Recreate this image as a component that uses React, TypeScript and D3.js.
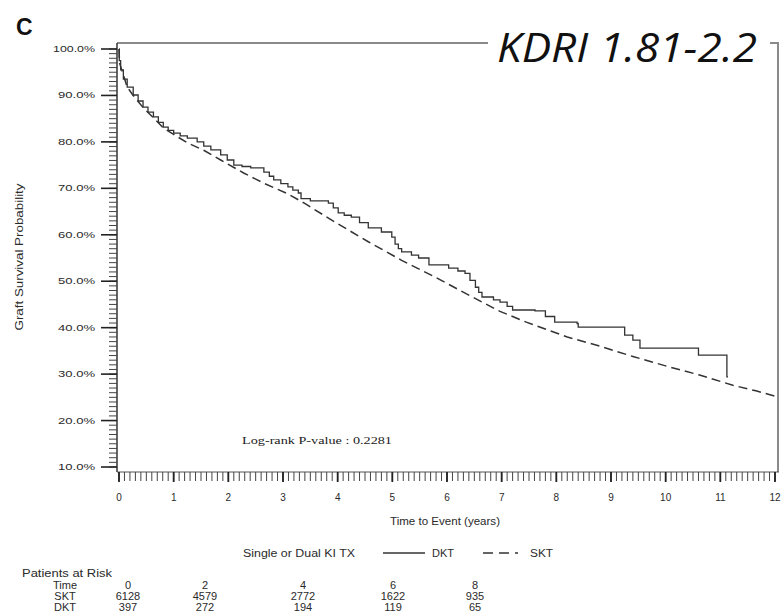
import React from "react";
import * as d3 from "d3";

// Kaplan–Meier graft survival, KDRI 1.81-2.2 stratum
// DKT: step points (years, survival %)
const dktTime = [0, 0.005, 0.03, 0.08, 0.15, 0.26, 0.35, 0.44, 0.53, 0.63, 0.72, 0.81, 0.9, 1.0, 1.12, 1.25, 1.43, 1.55, 1.68, 1.86, 1.98, 2.1, 2.25, 2.41, 2.65, 2.75, 2.83, 2.96, 3.09, 3.18, 3.28, 3.33, 3.5, 3.83, 3.92, 4.01, 4.12, 4.25, 4.4, 4.56, 4.8, 4.99, 5.05, 5.11, 5.17, 5.35, 5.48, 5.67, 6.03, 6.2, 6.33, 6.42, 6.52, 6.58, 6.64, 6.85, 6.97, 7.1, 7.2, 7.61, 7.8, 7.97, 8.38, 8.4, 9.25, 9.4, 9.53, 10.6, 11.12, 11.14];
const dktSurv = [100, 97.5, 95.5, 93.5, 91.8, 90.1, 88.8, 87.5, 86.4, 85.4, 84.2, 83.2, 82.5, 81.9, 81.3, 80.8, 80.0, 79.1, 78.3, 77.2, 76.1, 75.0, 74.7, 74.4, 73.5, 72.6, 71.8, 71.0, 70.3, 69.6, 69.0, 67.8, 67.3, 66.8, 65.8, 64.7, 64.2, 63.8, 62.6, 61.5, 60.6, 59.5, 58.0, 57.0, 56.3, 55.6, 55.0, 53.5, 52.8, 52.2, 51.7, 50.2, 48.7, 47.6, 46.6, 46.0, 45.5, 44.6, 43.8, 43.6, 42.4, 41.2, 40.9, 40.1, 38.4, 37.3, 35.6, 34.1, 29.4, 29.4];

// SKT: survival estimates (years, survival %)
const sktTime = [0, 0.01, 0.05, 0.15, 0.26, 0.44, 0.63, 0.81, 1.0, 1.25, 1.55, 1.86, 2.28, 2.65, 3.09, 3.39, 3.94, 4.56, 5.17, 5.78, 6.4, 6.97, 7.45, 8.2, 8.8, 9.4, 10.02, 10.62, 11.23, 11.65, 12.02];
const sktSurv = [100, 97, 95.5, 91.8, 90.0, 87.4, 85.2, 83.0, 81.6, 79.8, 78.2, 76.1, 73.3, 71.1, 68.8, 66.8, 62.8, 58.5, 54.5, 50.9, 47.0, 43.5, 41.2, 38.0, 36.0, 33.8, 31.7, 29.8, 27.6, 26.4, 25.2];

const yTickValues = [10, 20, 30, 40, 50, 60, 70, 80, 90, 100];
const xTickValues = [0, 1, 2, 3, 4, 5, 6, 7, 8, 9, 10, 11, 12];

// Patients at risk table
const riskTimes = ["0", "2", "4", "6", "8"];
const riskSKT = ["6128", "4579", "2772", "1622", "935"];
const riskDKT = ["397", "272", "194", "119", "65"];
const riskX = [128, 205, 303, 393, 475];

const W = 783;
const H = 616;

export default function App() {
  const x = d3.scaleLinear().domain([0, 12]).range([119, 775]);
  const y = d3.scaleLinear().domain([10, 100]).range([467, 49]);

  const dktPts = dktTime.map((t, i) => [t, dktSurv[i]] as [number, number]);
  const sktPts = sktTime.map((t, i) => [t, sktSurv[i]] as [number, number]);

  const stepLine = d3
    .line<[number, number]>()
    .x((d) => x(d[0]))
    .y((d) => y(d[1]))
    .curve(d3.curveStepAfter);
  const smoothLine = d3
    .line<[number, number]>()
    .x((d) => x(d[0]))
    .y((d) => y(d[1]))
    .curve(d3.curveLinear);

  const yMinor = d3.range(10, 100.5, 1);
  const xMinor = d3.range(0, 12.001, 0.1);

  const axisX0 = 117;
  const axisY0 = 472;
  const font = "'Liberation Sans', Arial, sans-serif";
  const ink = "#2a2a2a";

  return (
    <svg
      width={W}
      height={H}
      style={{ position: "absolute", left: 0, top: 0, background: "#fff" }}
      fontFamily={font}
    >
      <rect x={0} y={0} width={W} height={H} fill="#fff" />

      {/* panel letter */}
      <text x={16} y={35} fontSize={23} fontWeight="bold" fill="#111">
        C
      </text>

      {/* frame */}
      <line x1={axisX0} x2={779} y1={43} y2={43} stroke="#8a8a8a" strokeWidth={2} />
      <line x1={778} x2={778} y1={43} y2={axisY0} stroke="#8a8a8a" strokeWidth={2} />
      <line x1={axisX0} x2={axisX0} y1={43} y2={axisY0} stroke="#333" strokeWidth={1.5} />
      <line x1={axisX0} x2={779} y1={axisY0} y2={axisY0} stroke="#555" strokeWidth={1} />

      {/* y ticks */}
      {yMinor.map((v) => (
        <line
          key={"ym" + v}
          x1={axisX0 - 8}
          x2={axisX0}
          y1={y(v)}
          y2={y(v)}
          stroke="#444"
          strokeWidth={1}
        />
      ))}
      {yTickValues.map((v) => (
        <g key={"yt" + v}>
          <line x1={axisX0 - 16} x2={axisX0} y1={y(v)} y2={y(v)} stroke="#222" strokeWidth={1.6} />
          <text
            x={95}
            y={y(v) + 3}
            fontSize={9}
            textAnchor="end"
            fill={ink}
            textLength={v === 100 ? 42 : 37}
            lengthAdjust="spacingAndGlyphs"
          >
            {v.toFixed(1) + "%"}
          </text>
        </g>
      ))}

      {/* x ticks */}
      {xMinor.map((v, i) => (
        <line
          key={"xm" + i}
          x1={x(v)}
          x2={x(v)}
          y1={axisY0}
          y2={axisY0 + 9}
          stroke="#444"
          strokeWidth={1}
        />
      ))}
      {xTickValues.map((v) => (
        <g key={"xt" + v}>
          <line x1={x(v)} x2={x(v)} y1={axisY0} y2={axisY0 + 10} stroke="#222" strokeWidth={1.8} />
          <text x={x(v)} y={501} fontSize={10} textAnchor="middle" fill={ink}>
            {v}
          </text>
        </g>
      ))}

      {/* axis titles */}
      <text
        x={445}
        y={525}
        fontSize={10}
        textAnchor="middle"
        fill={ink}
        textLength={110}
        lengthAdjust="spacingAndGlyphs"
      >
        Time to Event (years)
      </text>
      <text
        transform="translate(23,257) rotate(-90)"
        fontSize={10}
        textAnchor="middle"
        fill={ink}
        textLength={147}
        lengthAdjust="spacingAndGlyphs"
      >
        Graft Survival Probability
      </text>

      {/* survival curves */}
      <path d={smoothLine(sktPts) || ""} fill="none" stroke="#333" strokeWidth={1.5} strokeDasharray="9,5" />
      <path d={stepLine(dktPts) || ""} fill="none" stroke="#333" strokeWidth={1.3} />

      {/* log-rank annotation */}
      <text
        x={242}
        y={444}
        fontSize={10}
        fontFamily="'Liberation Serif', 'Times New Roman', serif"
        fill="#222"
        textLength={150}
        lengthAdjust="spacingAndGlyphs"
      >
        Log-rank P-value : 0.2281
      </text>

      {/* stratum label on its own white box */}
      <rect x={488} y={26} width={282} height={44} fill="#fff" />
      <text
        x={497}
        y={62}
        fontSize={40}
        fontStyle="italic"
        fontFamily="'Open Sans', 'Liberation Sans', sans-serif"
        fill="#111"
        textLength={260}
        lengthAdjust="spacingAndGlyphs"
      >
        KDRI 1.81-2.2
      </text>

      {/* legend */}
      <text x={243} y={557} fontSize={10} fill={ink} textLength={112} lengthAdjust="spacingAndGlyphs">
        Single or Dual KI TX
      </text>
      <line x1={383} x2={425} y1={553} y2={553} stroke="#333" strokeWidth={1.3} />
      <text x={432} y={557} fontSize={10} fill={ink} textLength={22} lengthAdjust="spacingAndGlyphs">
        DKT
      </text>
      <line x1={483} x2={518} y1={553} y2={553} stroke="#333" strokeWidth={1.3} strokeDasharray="10,6" />
      <text x={530} y={557} fontSize={10} fill={ink} textLength={23} lengthAdjust="spacingAndGlyphs">
        SKT
      </text>

      {/* patients at risk */}
      <text x={22} y={577} fontSize={11} fill={ink} textLength={90} lengthAdjust="spacingAndGlyphs">
        Patients at Risk
      </text>
      <text x={65} y={589} fontSize={11} textAnchor="middle" fill={ink}>
        Time
      </text>
      <text x={65} y={600} fontSize={11} textAnchor="middle" fill={ink}>
        SKT
      </text>
      <text x={65} y={611} fontSize={11} textAnchor="middle" fill={ink}>
        DKT
      </text>
      {riskTimes.map((t, i) => (
        <g key={"r" + t}>
          <text x={riskX[i]} y={589} fontSize={11} textAnchor="middle" fill={ink}>
            {t}
          </text>
          <text x={riskX[i]} y={600} fontSize={11} textAnchor="middle" fill={ink}>
            {riskSKT[i]}
          </text>
          <text x={riskX[i]} y={611} fontSize={11} textAnchor="middle" fill={ink}>
            {riskDKT[i]}
          </text>
        </g>
      ))}
    </svg>
  );
}
